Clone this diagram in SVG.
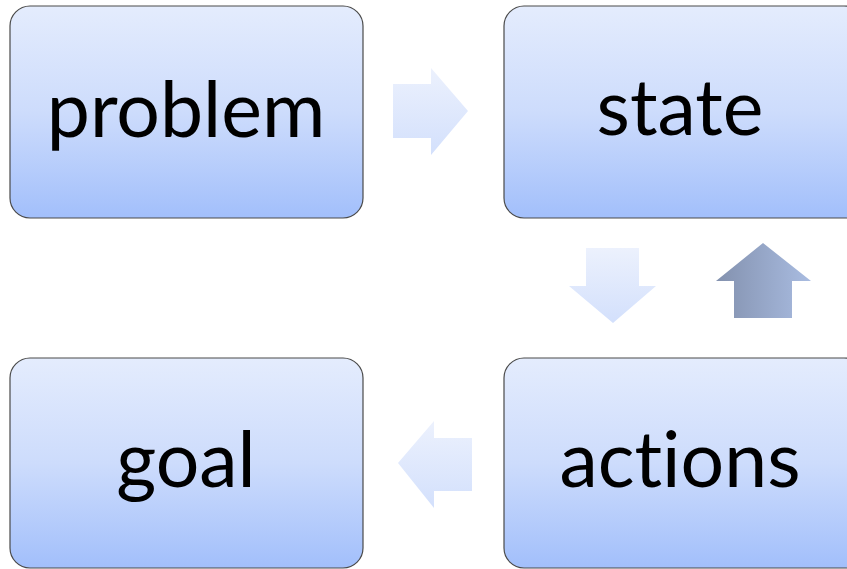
<svg xmlns="http://www.w3.org/2000/svg" width="847" height="569" viewBox="0 0 847 569">
<defs>
<linearGradient id="box" x1="0" y1="0" x2="0" y2="1">
<stop offset="0" stop-color="#e4ecfd"/>
<stop offset="0.5" stop-color="#cddcfc"/>
<stop offset="1" stop-color="#a2bffb"/>
</linearGradient>
<linearGradient id="light" x1="0" y1="0" x2="0" y2="1">
<stop offset="0" stop-color="#ecf1fd"/>
<stop offset="1" stop-color="#d3e0fc"/>
</linearGradient>
<linearGradient id="dark" x1="0" y1="0" x2="1" y2="0">
<stop offset="0" stop-color="#8391ae"/>
<stop offset="1" stop-color="#a9bce1"/>
</linearGradient>
</defs>
<style>
.box{fill:url(#box);stroke:#4a4a4a;stroke-width:1.2}
.lbl{font-family:"Lato","Open Sans","Liberation Sans",sans-serif;font-size:77px;fill:#000;text-anchor:middle;font-variant-ligatures:none}
.la{fill:url(#light)}
</style>
<rect width="847" height="569" fill="#fff"/>
<g id="connectors">
<polygon class="la" points="393,84 431,84 431,68 468,111 431,155 431,138 393,138"/>
<polygon class="la" points="586,248 639,248 639,286 656,286 613,323 569,286 586,286"/>
<polygon fill="url(#dark)" points="763,243 811,281 792,281 792,318 734,318 734,281 716,281"/>
<polygon class="la" points="472,438 434,438 434,421 398,463 434,508 434,491 472,491"/>
</g>
<g id="problem">
<rect class="box" x="10" y="6" width="353" height="212" rx="20"/>
<text class="lbl" x="186" y="137">problem</text>
</g>
<g id="state">
<rect class="box" x="504" y="6" width="360" height="212" rx="20"/>
<text class="lbl" x="680" y="135">state</text>
</g>
<g id="goal">
<rect class="box" x="10" y="358" width="353" height="210" rx="20"/>
<text class="lbl" x="186" y="487">goal</text>
</g>
<g id="actions">
<rect class="box" x="504" y="358" width="360" height="210" rx="20"/>
<text class="lbl" x="680" y="487">actions</text>
</g>
</svg>
